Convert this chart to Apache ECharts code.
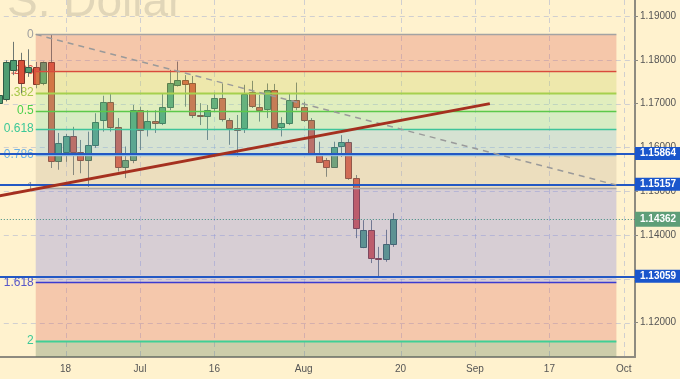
<!DOCTYPE html>
<html><head><meta charset="utf-8">
<script src="https://cdn.jsdelivr.net/npm/echarts@6/dist/echarts.min.js"></script>
<style>html,body{margin:0;padding:0;background:#fff2ce}#c{width:680px;height:379px}</style>
</head><body><div id="c"></div>
<script>
// ---- data ----
const dates = ['06-05','06-06','06-07','06-08','06-11','06-12','06-13','06-14','06-15','06-18','06-19','06-20','06-21','06-22','06-25','06-26','06-27','06-28','06-29',
'07-02','07-03','07-04','07-05','07-06','07-09','07-10','07-11','07-12','07-13','07-16','07-17','07-18','07-19','07-20','07-23','07-24','07-25','07-26','07-27','07-30','07-31',
'08-01','08-02','08-03','08-06','08-07','08-08','08-09','08-10','08-13','08-14','08-15','08-16','08-17','08-20','08-21','08-22','08-23','08-24','08-27','08-28','08-29','08-30','08-31',
'09-03','09-04','09-05','09-06','09-07','09-10','09-11','09-12','09-13','09-14','09-17','09-18','09-19','09-20','09-21','09-24','09-25','09-26','09-27','09-28',
'10-01','10-02'];
const tickDates = ['06-18','07-02','07-16','08-01','08-20','09-03','09-17','10-01'];
const tickLabels = ['18','Jul','16','Aug','20','Sep','17','Oct'];
const priceTicks = [1.12,1.13,1.14,1.15,1.16,1.17,1.18,1.19];

const open  = [1.1701,1.1712,1.1777,1.1800,1.1773,1.1784,1.1746,1.1794,1.1567,1.1590,1.1626,1.1590,1.1571,1.1606,1.1664,1.1704,1.1647,1.1556,1.1571,
1.1686,1.1641,1.1660,1.1656,1.1692,1.1743,1.1754,1.1748,1.1674,1.1672,1.1689,1.1712,1.1663,1.1645,1.1644,1.1727,1.1693,1.1687,1.1731,1.1646,1.1656,1.1708,
1.1693,1.1663,1.1588,1.1571,1.1556,1.1602,1.1612,1.1530,1.1373,1.1412,1.1347,1.1346,1.1380];
const close = [1.1720,1.1796,1.1800,1.1748,1.1784,1.1746,1.1794,1.1567,1.1609,1.1626,1.1590,1.1571,1.1606,1.1659,1.1704,1.1647,1.1556,1.1571,1.1686,
1.1641,1.1660,1.1656,1.1693,1.1746,1.1754,1.1746,1.1674,1.1672,1.1685,1.1712,1.1663,1.1644,1.1641,1.1721,1.1695,1.1687,1.1731,1.1645,1.1656,1.1708,1.1692,
1.1663,1.1588,1.1567,1.1556,1.1602,1.1612,1.1530,1.1415,1.1412,1.1347,1.1345,1.1380,1.14362];
const low   = [1.1688,1.1705,1.1765,1.1724,1.1761,1.1735,1.1742,1.1553,1.1549,1.1567,1.1537,1.1541,1.1510,1.1599,1.1636,1.1636,1.1545,1.1530,1.1564,
1.1594,1.1625,1.1633,1.1651,1.1685,1.1739,1.1693,1.1667,1.1651,1.1617,1.1682,1.1659,1.1606,1.1579,1.1633,1.1690,1.1659,1.1667,1.1640,1.1625,1.1651,1.1685,
1.1658,1.1585,1.1565,1.1533,1.1553,1.1578,1.1526,1.1393,1.1370,1.1336,1.13059,1.1339,1.1373];
const high  = [1.1735,1.1799,1.1841,1.1816,1.1824,1.1795,1.1796,1.1857,1.1633,1.1631,1.1647,1.1617,1.1636,1.1678,1.1718,1.1722,1.1667,1.1602,1.1697,
1.1693,1.1685,1.1685,1.1724,1.1777,1.1796,1.1765,1.1763,1.1701,1.1697,1.1725,1.1746,1.1667,1.1674,1.1743,1.1752,1.1720,1.1746,1.1745,1.1669,1.1722,1.1748,
1.1704,1.1667,1.1613,1.1576,1.1613,1.1628,1.1619,1.1537,1.1434,1.1434,1.1373,1.1412,1.1450];

const fibLevels = [0,0.236,0.382,0.5,0.618,0.786,1,1.618,2,2.618];
const fibLabels = ['0','0.236','0.382','0.5','0.618','0.786','1','1.618','2',''];
const fibHigh = 1.1858, fibLow = 1.1508;
const fibFrom = '06-12', fibTo = '09-28';
const levelLines = [1.15864, 1.15157, 1.13059];
const lastPrice = 1.14362;
const trendDashed = [['06-12',1.1858],['09-28',1.1514]];
const trendBrown = [['06-05',1.1489],['09-05',1.1700]];

// ---- styles ----
const BG = '#fff2ce';
const bandColors = ['rgba(222,99,86,0.3)','rgba(198,209,93,0.3)','rgba(155,229,153,0.3)','rgba(122,222,169,0.3)','rgba(118,189,219,0.3)',
  'rgba(192,175,153,0.3)','rgba(122,122,226,0.3)','rgba(222,102,93,0.3)','rgba(88,119,86,0.3)'];
const lineColors = ['#a3a3a3','#d94a3d','#a6d04e','#5cc84a','#3ec49a','#8fbde0','#a6a6a6','#3b3bd0','#3fcf95',null];
const labelColors = ['#a0a0a0','#e0504a','#a8c84a','#4cd04c','#3cc898','#6ab0e4','#9a9a9a','#5858c8','#3cc898',''];
const FONT = '"Liberation Sans", Arial, sans-serif';
const AXIS = '#8e8b80';

const candleRows = open.map((o,i)=>[i,o,close[i],low[i],high[i]]);
const fStart = dates.indexOf(fibFrom), fEnd = dates.indexOf(fibTo);
const fibPrice = fibLevels.map(l => fibHigh - l*(fibHigh-fibLow));
const fibRows = fibLevels.map((l,k)=>[fStart, fEnd, fibPrice[k], k < fibLevels.length-1 ? fibPrice[k+1] : fibPrice[k], k]);
const gridRows = priceTicks.map(v=>[0,v]).concat(tickDates.map(d=>[1,dates.indexOf(d)]));

const chart = echarts.init(document.getElementById('c'), null, {renderer:'canvas'});
const clip = (shape, cs) => echarts.graphic.clipRectByRect(shape, {x:cs.x,y:cs.y,width:cs.width,height:cs.height});

chart.setOption({
  animation:false,
  backgroundColor: BG,
  grid:{left:-5.2, right:45, top:0, bottom:22, outerBoundsMode:'none', containLabel:false},
  graphic:[{type:'text', left:7, top:-20, z:0, style:{text:'S. Dollar', font:'46px "Liberation Sans", Arial, sans-serif', fill:'rgba(90,90,90,0.18)'}}],
  xAxis:{type:'category', data:dates, boundaryGap:true,
    axisLine:{lineStyle:{color:AXIS, width:2}},
    axisTick:{alignWithLabel:true, length:3, lineStyle:{color:AXIS}, interval:(i,v)=>tickDates.includes(v)},
    axisLabel:{interval:(i,v)=>tickDates.includes(v), formatter:v=>tickLabels[tickDates.indexOf(v)], color:'#555', fontSize:10, fontFamily:FONT, margin:7},
    splitLine:{show:false}},
  yAxis:{type:'value', position:'right', min:1.11216, max:1.19365, scale:true,
    axisLine:{show:true, lineStyle:{color:AXIS, width:2}},
    axisTick:{show:true, length:3, lineStyle:{color:AXIS}, customValues:priceTicks},
    axisLabel:{customValues:priceTicks, formatter:v=>v.toFixed(5), color:'#555', fontSize:10, fontFamily:FONT, margin:5},
    splitLine:{show:false}},
  series:[
    {type:'custom', z:1, silent:true, data:gridRows, renderItem:(params, api)=>{
      const cs = params.coordSys, t = api.value(0), v = api.value(1);
      const st = {stroke:'rgba(150,165,210,0.45)', lineWidth:1, lineDash:[5,4]};
      if (t === 0) { const y = Math.round(api.coord([0, v])[1]) + 0.5;
        return {type:'line', shape:{x1:cs.x, y1:y, x2:cs.x+cs.width, y2:y}, style:st}; }
      const x = Math.round(api.coord([v, 0])[0]) + 0.5;
      return {type:'line', shape:{x1:x, y1:cs.y, x2:x, y2:cs.y+cs.height}, style:st};
    }},
    {type:'custom', z:2, silent:true, data:fibRows, renderItem:(params, api)=>{
      const k = api.value(4); if (!fibLabels[k]) return null;
      const p = api.coord([api.value(0), api.value(2)]);
      return {type:'text', x:p[0]-2, y:p[1], style:{text:fibLabels[k], fill:labelColors[k], font:'12px '+FONT, align:'right', verticalAlign:'middle'}};
    }},
    {type:'custom', z:3, silent:true, data:candleRows, encode:{x:0, y:[1,2,3,4]}, renderItem:(params, api)=>{
      const i = api.value(0), o = api.value(1), c = api.value(2), l = api.value(3), h = api.value(4);
      const po = api.coord([i,o]), pc = api.coord([i,c]), pl = api.coord([i,l]), ph = api.coord([i,h]);
      const x = Math.round(po[0]) + 0.5;
      const bw = 6;
      const up = c >= o;
      const top = Math.round(Math.min(po[1], pc[1])) + 0.5;
      const hgt = Math.max(1, Math.round(Math.abs(po[1]-pc[1])));
      return {type:'group', children:[
        {type:'line', shape:{x1:x, y1:ph[1], x2:x, y2:pl[1]}, style:{stroke:'#6e7771', lineWidth:1}},
        {type:'rect', shape:{x:x-bw/2, y:top, width:bw, height:hgt}, style:{fill:up?'#4f9d72':'#d9503a', stroke:up?'#2f5c47':'#7e3328', lineWidth:1}}
      ]};
    }},
    {type:'custom', z:4, silent:true, data:fibRows, renderItem:(params, api)=>{
      const k = api.value(4), cs = params.coordSys;
      const a = api.coord([api.value(0), api.value(2)]), b = api.coord([api.value(1), api.value(3)]);
      const children = [];
      if (k < fibLevels.length-1) {
        const r = clip({x:a[0], y:a[1], width:b[0]-a[0], height:b[1]-a[1]}, cs);
        if (r) children.push({type:'rect', shape:r, style:{fill:bandColors[k]}});
      }
      if (lineColors[k] && a[1] >= cs.y && a[1] <= cs.y+cs.height) {
        const y = Math.round(a[1]) + 0.5;
        children.push({type:'line', shape:{x1:a[0], y1:y, x2:b[0], y2:y}, style:{stroke:lineColors[k], lineWidth:(k===2||k===8)?2:1.5}});
      }
      return {type:'group', children};
    }},
    {type:'line', z:6, data:trendDashed, symbol:'none', silent:true, lineStyle:{color:'#9a9a9a', width:1.5, type:[6,5]}},
    {type:'line', z:7, data:trendBrown, symbol:'none', silent:true, clip:false, lineStyle:{color:'#a5301f', width:3},
      markLine:{symbol:'none', silent:true, animation:false, precision:5,
        data: levelLines.map(v=>({yAxis:v, lineStyle:{color:'#2358c4', width:2, type:'solid'},
          label:{show:true, position:'end', distance:0, formatter:p=>Number(p.value).toFixed(5), color:'#fff', fontWeight:'bold', fontSize:10, fontFamily:FONT,
                 backgroundColor:'#1a56cc', padding:[2,5,1,5]}}))
          .concat([{yAxis:lastPrice, lineStyle:{color:'#3a8a80', width:1, type:[1,2]},
          label:{show:true, position:'end', distance:0, formatter:p=>Number(p.value).toFixed(5), color:'#fff', fontWeight:'bold', fontSize:10, fontFamily:FONT,
                 backgroundColor:'#5e9e78', padding:[3,5,2,5]}}])
      }}
  ]
});
</script></body></html>
